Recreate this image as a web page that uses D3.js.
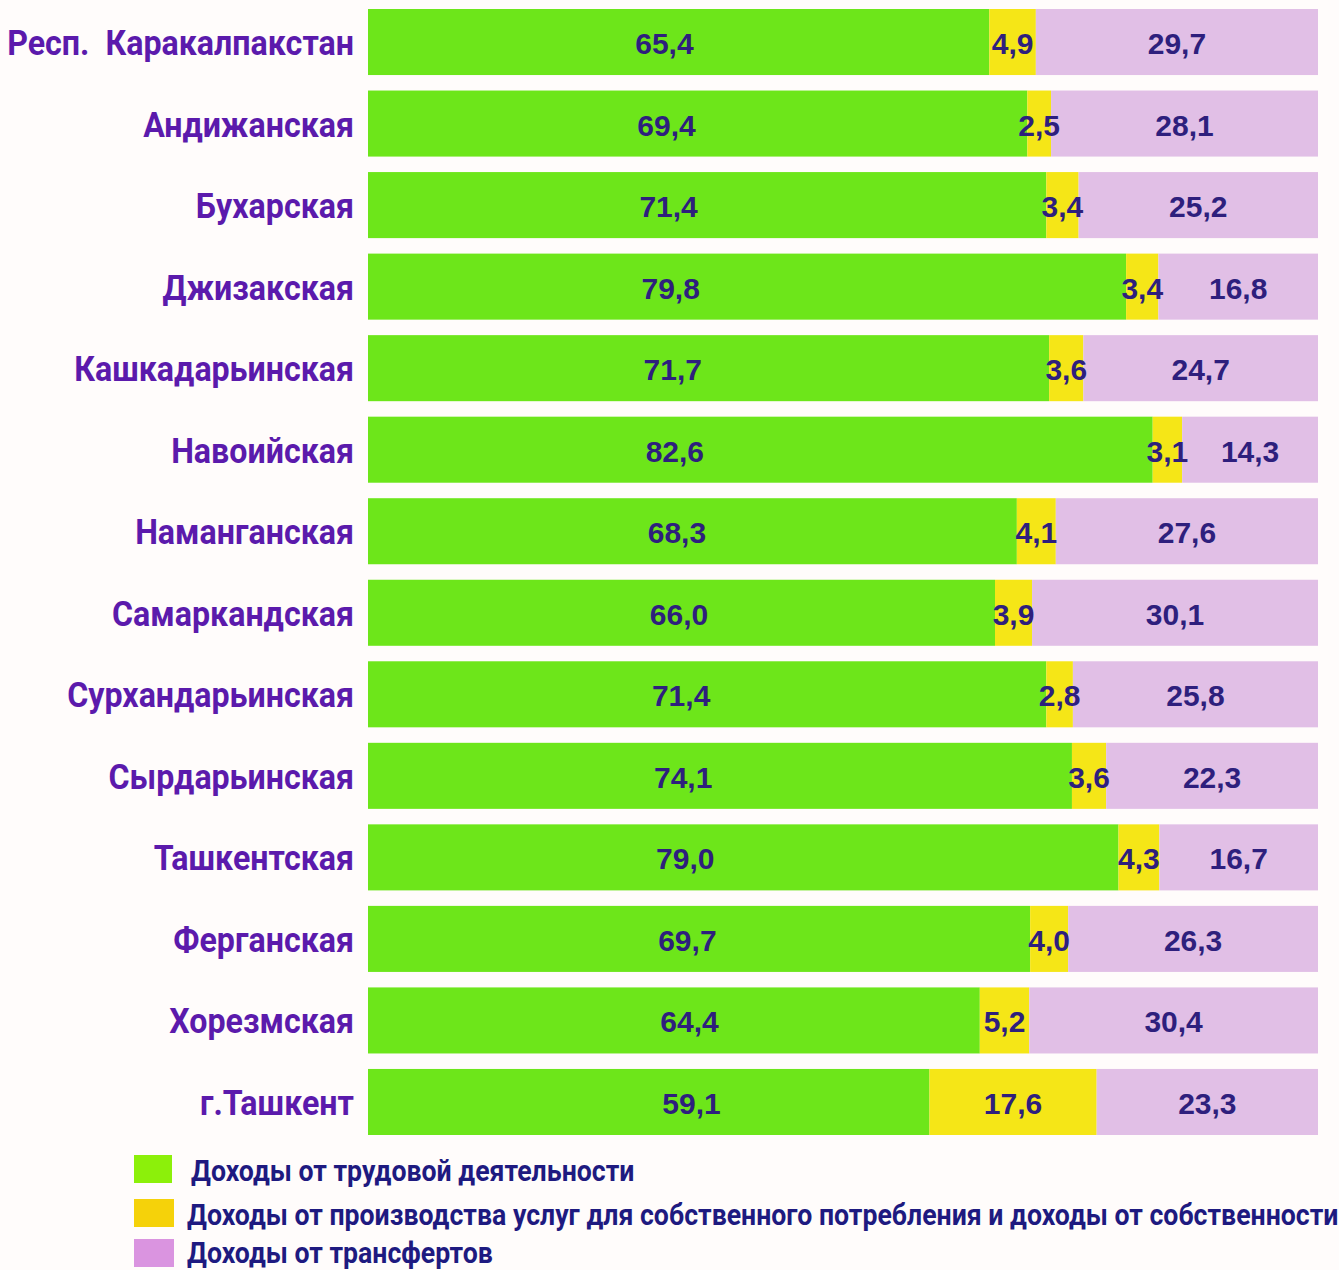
<!DOCTYPE html>
<html><head><meta charset="utf-8">
<script src="https://cdn.jsdelivr.net/npm/d3@7"></script>
<style>
html,body{margin:0;padding:0;background:#fffcfb;}
svg{display:block;}
text{white-space:pre;}
</style></head>
<body>
<svg id="c" width="1339" height="1270"></svg>
<script>
const categories = ["Респ.  Каракалпакстан","Андижанская","Бухарская","Джизакская","Кашкадарьинская","Навоийская","Наманганская","Самаркандская","Сурхандарьинская","Сырдарьинская","Ташкентская","Ферганская","Хорезмская","г.Ташкент"];
const labour    = [65.4,69.4,71.4,79.8,71.7,82.6,68.3,66.0,71.4,74.1,79.0,69.7,64.4,59.1];
const ownUse    = [4.9,2.5,3.4,3.4,3.6,3.1,4.1,3.9,2.8,3.6,4.3,4.0,5.2,17.6];
const transfers = [29.7,28.1,25.2,16.8,24.7,14.3,27.6,30.1,25.8,22.3,16.7,26.3,30.4,23.3];
const seriesNames = ["Доходы от трудовой деятельности","Доходы от производства услуг для собственного потребления и доходы от собственности","Доходы от трансфертов"];

const barColors = ["#6de61a","#f5e617","#e1bfe6"];
const legendColors = ["#8cf00a","#f5d20a","#da94e0"];
const fmt = v => v.toFixed(1).replace(".", ",");

const svg = d3.select("#c");
const x = d3.scaleLinear().domain([0,100]).range([368,1318]);
const y = d3.scaleBand().domain(categories).range([9,1135]).paddingInner(0.19).paddingOuter(0);

const rows = categories.map((c,i)=>({cat:c, i, vals:[labour[i],ownUse[i],transfers[i]]}));
const segs = [];
rows.forEach(r=>{
  let acc=0;
  r.vals.forEach((v,k)=>{ segs.push({cat:r.cat,i:r.i,k,v,x0:acc,x1:acc+v}); acc+=v; });
});

svg.append("g").selectAll("rect").data(segs).join("rect")
  .attr("x",d=>x(d.x0)).attr("width",d=>x(d.x1)-x(d.x0))
  .attr("y",d=>y(d.cat)).attr("height",y.bandwidth())
  .attr("fill",d=>barColors[d.k]);

svg.append("g").selectAll("text").data(segs).join("text")
  .attr("x",d=> d.k===0 ? x(31.2+0.22*d.i) : x((d.x0+d.x1)/2))
  .attr("y",d=>y(d.cat)+y.bandwidth()/2+12)
  .attr("text-anchor","middle")
  .attr("font-family","'Liberation Sans', Arial, sans-serif")
  .attr("font-weight","bold").attr("font-size",30)
  .attr("fill","#2e1f7d")
  .text(d=>fmt(d.v));

// category labels (condensed)
const catG = svg.append("g");
categories.forEach(c=>{
  catG.append("text")
    .attr("transform",`translate(354,${y(c)+y.bandwidth()/2+13}) scale(0.92,1)`)
    .attr("text-anchor","end")
    .attr("font-family","Roboto, sans-serif").attr("font-weight",700).attr("font-size",35)
    .attr("fill","#5b1aac")
    .text(c);
});

// legend
const lg = svg.append("g");
const legY = [1155,1199,1239];
const legTx = [191,187,187];
seriesNames.forEach((n,k)=>{
  lg.append("rect").attr("x",134).attr("y",legY[k]).attr("width",k===0?38:40).attr("height",28).attr("fill",legendColors[k]);
  lg.append("text")
    .attr("transform",`translate(${legTx[k]},${legY[k]+(k===2?24:26)}) scale(0.92,1)`)
    .attr("font-family","Roboto, sans-serif").attr("font-weight",700).attr("font-size",29)
    .attr("fill","#1e1a80")
    .text(n);
});
</script>
</body></html>
